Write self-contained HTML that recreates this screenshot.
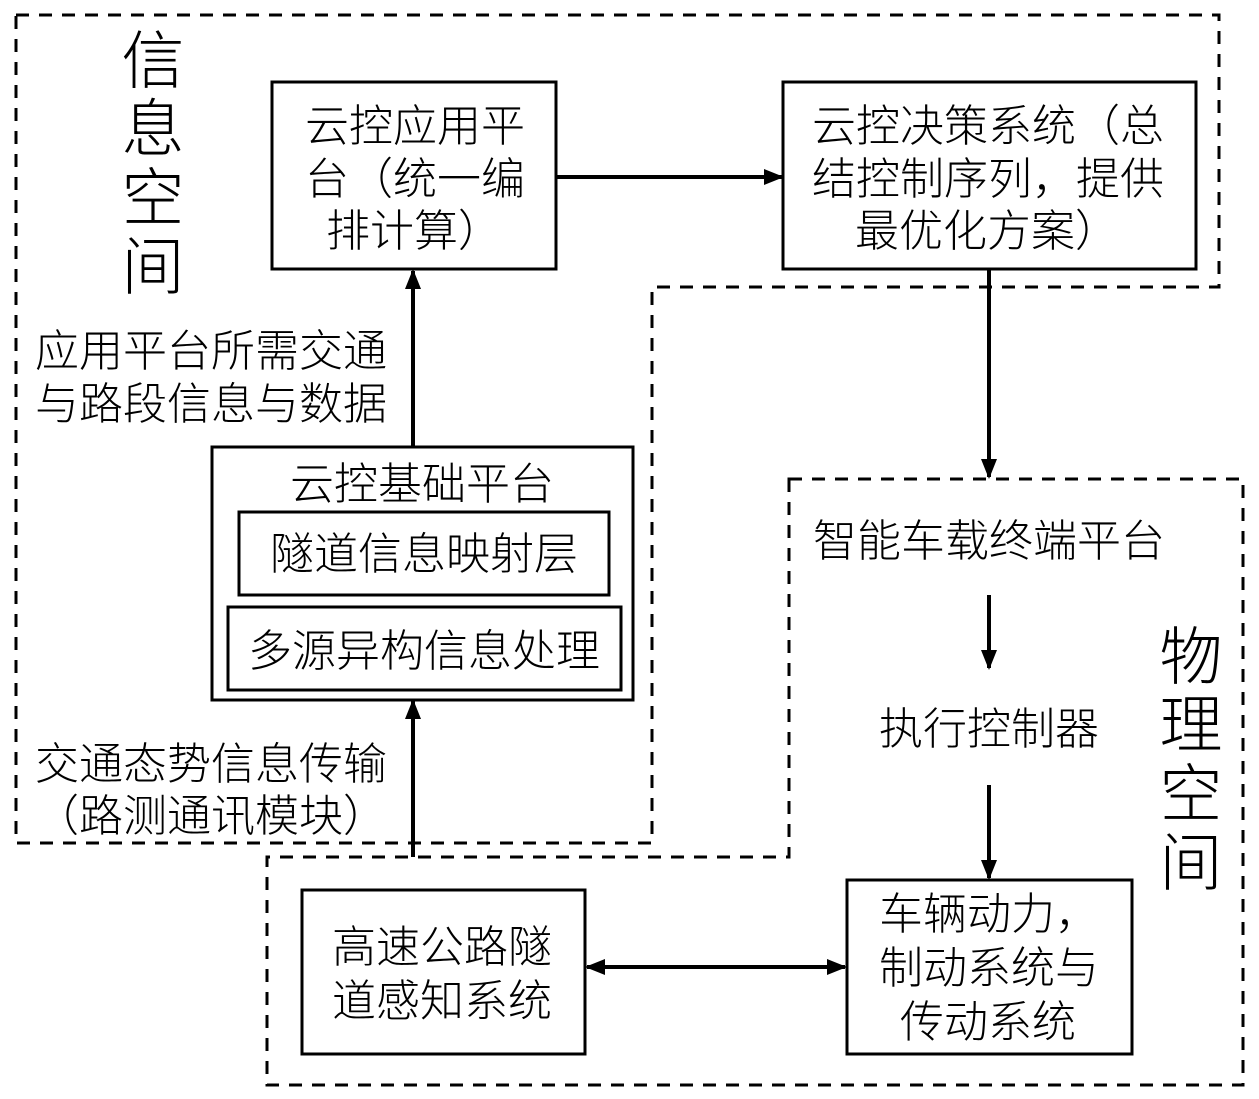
<!DOCTYPE html>
<html><head><meta charset="utf-8"><style>
html,body{margin:0;padding:0;background:#fff;}
svg{display:block;}
text{font-family:"Liberation Sans","Noto Sans CJK SC",sans-serif;font-size:44px;fill:#000;font-weight:300;}
.big{font-size:63px;}
</style></head><body>
<svg width="1259" height="1099" viewBox="0 0 1259 1099" xmlns="http://www.w3.org/2000/svg">
<defs>
<marker id="ah2" markerWidth="20" markerHeight="16" refX="18" refY="8" orient="auto-start-reverse" markerUnits="userSpaceOnUse" viewBox="0 0 20 16">
<path d="M0,0 L20,8 L0,16 z" fill="#000"/></marker>
</defs>
<g fill="none" stroke="#000" stroke-width="3" stroke-dasharray="13,10">
<path d="M16,15 H1219 V287 H652 V843 H16 Z"/>
<path d="M789,479 H1243 V1085 H267 V857 H789 Z"/>
</g>
<g fill="#fff" stroke="#000" stroke-width="3">
<rect x="272" y="82" width="284" height="187"/>
<rect x="783" y="82" width="413" height="187"/>
<rect x="212" y="447" width="421" height="253"/>
<rect x="239" y="512" width="370" height="83"/>
<rect x="228" y="607" width="393" height="83"/>
<rect x="302" y="890" width="283" height="164"/>
<rect x="847" y="880" width="285" height="174"/>
</g>
<g stroke="#000" stroke-width="4" fill="none">
<line x1="556" y1="177" x2="782" y2="177" marker-end="url(#ah2)"/>
<line x1="989" y1="269" x2="989" y2="477" marker-end="url(#ah2)"/>
<line x1="413" y1="447" x2="413" y2="271" marker-end="url(#ah2)"/>
<line x1="413" y1="857" x2="413" y2="701" marker-end="url(#ah2)"/>
<line x1="989" y1="595" x2="989" y2="668" marker-end="url(#ah2)"/>
<line x1="989" y1="785" x2="989" y2="878" marker-end="url(#ah2)"/>
<line x1="587" y1="967" x2="845" y2="967" marker-start="url(#ah2)" marker-end="url(#ah2)"/>
</g>
<text class="big" x="153" y="83" text-anchor="middle">信</text>
<text class="big" x="153" y="151" text-anchor="middle">息</text>
<text class="big" x="153" y="220" text-anchor="middle">空</text>
<text class="big" x="153" y="289" text-anchor="middle">间</text>
<text class="big" x="1191" y="679" text-anchor="middle">物</text>
<text class="big" x="1191" y="747" text-anchor="middle">理</text>
<text class="big" x="1191" y="816" text-anchor="middle">空</text>
<text class="big" x="1191" y="885" text-anchor="middle">间</text>
<text x="305" y="141">云控应用平</text>
<text x="305" y="194">台（统一编</text>
<text x="326" y="246">排计算）</text>
<text x="812" y="141">云控决策系统（总</text>
<text x="812" y="194">结控制序列，提供</text>
<text x="855" y="246">最优化方案）</text>
<text x="422" y="499" text-anchor="middle">云控基础平台</text>
<text x="424" y="569" text-anchor="middle">隧道信息映射层</text>
<text x="424" y="666" text-anchor="middle">多源异构信息处理</text>
<text x="35" y="366">应用平台所需交通</text>
<text x="35" y="419">与路段信息与数据</text>
<text x="35" y="779">交通态势信息传输</text>
<text x="35" y="831">（路测通讯模块）</text>
<text x="813" y="556">智能车载终端平台</text>
<text x="989" y="744" text-anchor="middle">执行控制器</text>
<text x="332" y="962">高速公路隧</text>
<text x="332" y="1016">道感知系统</text>
<text x="879" y="929">车辆动力，</text>
<text x="879" y="983">制动系统与</text>
<text x="900" y="1037">传动系统</text>
</svg>
</body></html>
